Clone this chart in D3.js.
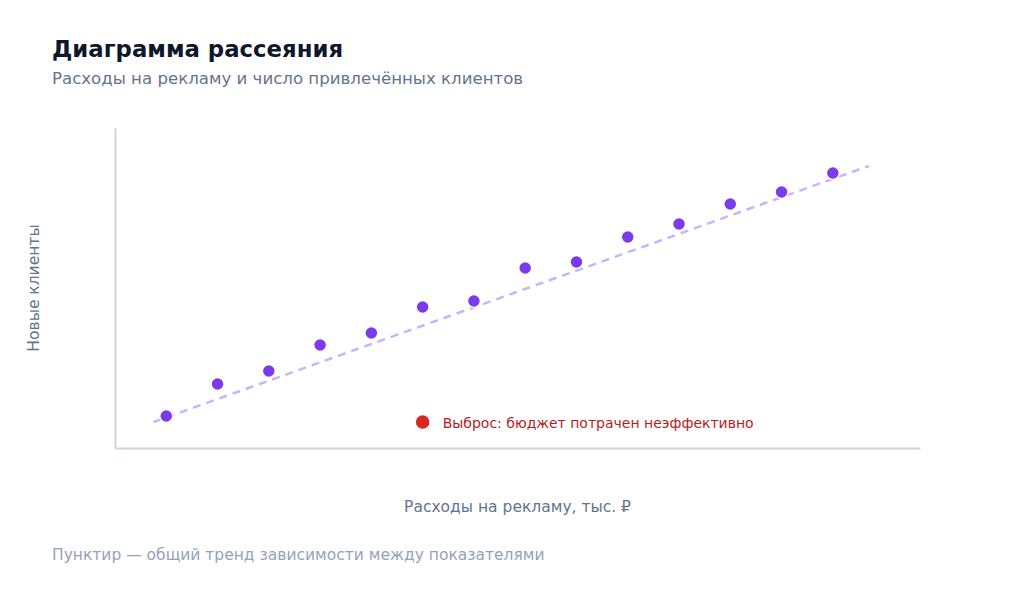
<!DOCTYPE html>
<html>
<head>
<meta charset="utf-8">
<script src="https://cdn.jsdelivr.net/npm/d3@7"></script>
<style>
  body { margin: 0; background: #fff; font-family: "DejaVu Sans", sans-serif; }
</style>
</head>
<body>
<div id="chart"></div>
<script>
// spend, thousand rubles
const spend = [10, 20, 30, 40, 50, 60, 70, 80, 90, 100, 110, 120, 130, 140]
// new clients
const clients = [32, 64, 77, 103, 115, 141, 147, 180, 186, 211, 224, 244, 256, 275]
const outlier = { spend: 60, clients: 26, label: "Выброс: бюджет потрачен неэффективно" }
const trendSpend = [7.5, 147]
const trendClients = [26, 282]

const width = 1024
const height = 589

const svg = d3.select("#chart")
  .append("svg")
  .attr("width", width)
  .attr("height", height)

const x = d3.scaleLinear().domain([0, 157]).range([115, 920])
const y = d3.scaleLinear().domain([0, 320]).range([448, 128])

svg.append("text")
  .attr("x", 52).attr("y", 57)
  .attr("font-size", 22.8).attr("font-weight", "bold")
  .attr("fill", "#0f172a")
  .text("Диаграмма рассеяния")

svg.append("text")
  .attr("x", 52).attr("y", 84)
  .attr("font-size", 16.6)
  .attr("fill", "#64748b")
  .text("Расходы на рекламу и число привлечённых клиентов")

// axes, no ticks
svg.append("g")
  .attr("transform", `translate(0,${y(0)})`)
  .call(d3.axisBottom(x).tickValues([]).tickSizeOuter(0))
svg.append("g")
  .attr("transform", `translate(${x(0)},0)`)
  .call(d3.axisLeft(y).tickValues([]).tickSizeOuter(0))
svg.selectAll(".domain").attr("stroke", "#cbd5e1").attr("stroke-width", 2)

// trend
const pts = trendSpend.map((s, i) => [s, trendClients[i]])
svg.append("path")
  .datum(pts)
  .attr("fill", "none")
  .attr("stroke", "#c4b5fd")
  .attr("stroke-width", 2.5)
  .attr("stroke-dasharray", "8 6")
  .attr("d", d3.line().x(d => x(d[0])).y(d => y(d[1])))

const data = spend.map((s, i) => ({ spend: s, clients: clients[i] }))

svg.selectAll(".dot")
  .data(data)
  .enter()
  .append("circle")
  .attr("class", "dot")
  .attr("cx", d => x(d.spend))
  .attr("cy", d => y(d.clients))
  .attr("r", 6.5)
  .attr("fill", "#7c3aed")
  .attr("stroke", "#fff")
  .attr("stroke-width", 1.5)

svg.append("circle")
  .attr("cx", x(outlier.spend))
  .attr("cy", y(outlier.clients))
  .attr("r", 7.5)
  .attr("fill", "#dc2626")
  .attr("stroke", "#fff")
  .attr("stroke-width", 1.5)

svg.append("text")
  .attr("x", x(outlier.spend) + 20)
  .attr("y", y(outlier.clients) + 6)
  .attr("font-size", 14)
  .attr("fill", "#b91c1c")
  .text(outlier.label)

svg.append("text")
  .attr("x", (x.range()[0] + x.range()[1]) / 2)
  .attr("y", 512)
  .attr("text-anchor", "middle")
  .attr("font-size", 15.5)
  .attr("fill", "#64748b")
  .text("Расходы на рекламу, тыс. ₽")

svg.append("text")
  .attr("transform", `translate(39,${(y.range()[0] + y.range()[1]) / 2}) rotate(-90)`)
  .attr("text-anchor", "middle")
  .attr("font-size", 15.5)
  .attr("fill", "#64748b")
  .text("Новые клиенты")

svg.append("text")
  .attr("x", 52).attr("y", 560)
  .attr("font-size", 15.5)
  .attr("fill", "#94a3b8")
  .text("Пунктир — общий тренд зависимости между показателями")
</script>
</body>
</html>
